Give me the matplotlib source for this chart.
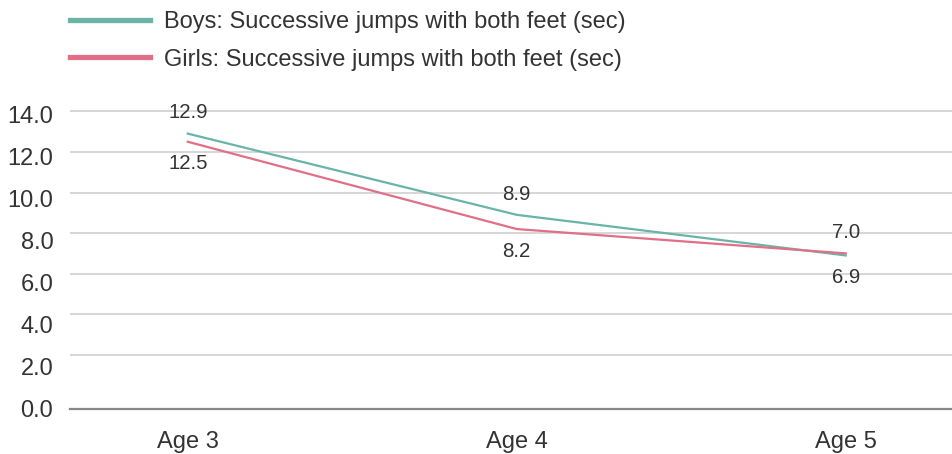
import matplotlib.pyplot as plt
from matplotlib.lines import Line2D

plt.rcParams['font.family'] = ['Liberation Sans', 'DejaVu Sans']

# data
ages = ['Age 3', 'Age 4', 'Age 5']
boys = [12.9, 8.9, 6.9]
girls = [12.5, 8.2, 7.0]
series_names = ['Boys: Successive jumps with both feet (sec)',
                'Girls: Successive jumps with both feet (sec)']
grid_values = [2, 4, 6, 8, 10, 12, 14]
tick_values = [0, 2, 4, 6, 8, 10, 12, 14]

teal = '#6ab4a7'
pink = '#e06f87'
text_col = '#333333'

fig = plt.figure(figsize=(9.52, 4.54), dpi=100)
ax = fig.add_axes([0.0735, 0.0993, 0.9265, 0.6645])

x = range(len(ages))
ax.plot(x, boys, color=teal, lw=1.6, zorder=3)
ax.plot(x, girls, color=pink, lw=1.6, zorder=3)

# gridlines (no line at 0, the bottom spine stands in for it)
for g in grid_values:
    ax.axhline(g, color='#d6d6d6', lw=1.4, zorder=1)

ax.set_xlim(-0.358, 2.323)
ax.set_ylim(-0.66, 14.2)

# the y labels in the reference are spaced a bit wider than the gridlines
label_pos = [-0.64 + 1.036 * v for v in tick_values]
ax.set_yticks(label_pos, [f'{v:.1f}' for v in tick_values])
ax.set_xticks(list(x), ages)
ax.tick_params(axis='y', length=0, pad=12, labelsize=17, labelcolor=text_col)
ax.tick_params(axis='x', length=0, pad=16, labelsize=17, labelcolor=text_col)

for s in ['top', 'right', 'left']:
    ax.spines[s].set_visible(False)
ax.spines['bottom'].set_color('#888888')
ax.spines['bottom'].set_linewidth(1.6)

# value labels: higher series above, lower below
for i in x:
    hi, lo = (boys[i], girls[i]) if boys[i] >= girls[i] else (girls[i], boys[i])
    ax.annotate(f'{hi:.1f}', (i, hi), xytext=(0, 15), textcoords='offset points',
                ha='center', va='center', fontsize=14.7, color=text_col)
    ax.annotate(f'{lo:.1f}', (i, lo), xytext=(0, -16), textcoords='offset points',
                ha='center', va='center', fontsize=14.7, color=text_col)

handles = [Line2D([], [], color=teal, lw=3.8), Line2D([], [], color=pink, lw=3.8)]
fig.legend(handles, series_names, loc='upper left', bbox_to_anchor=(0.0735, 0.976),
           frameon=False, fontsize=17, handlelength=3.4, handletextpad=0.6,
           labelspacing=0.67, borderpad=0, borderaxespad=0, labelcolor=text_col)

fig.savefig('out.png', dpi=100)
